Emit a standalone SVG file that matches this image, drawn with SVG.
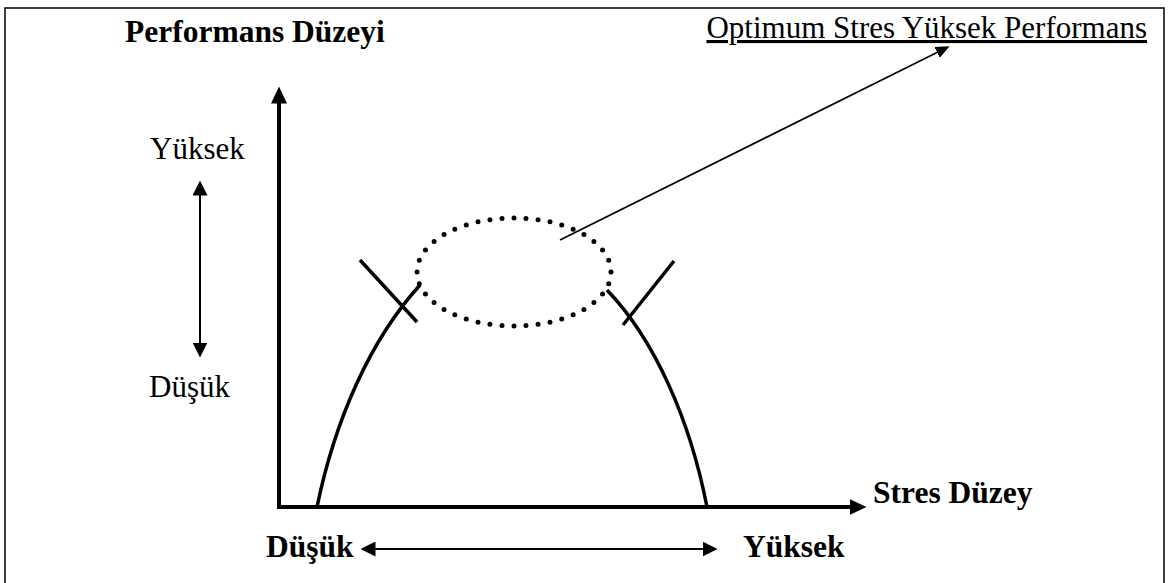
<svg xmlns="http://www.w3.org/2000/svg" width="1169" height="583" viewBox="0 0 1169 583">
  <style>
    .reg { font-family: "Liberation Serif", "Times New Roman", serif; font-size: 31px; fill: #000; }
    .bold { font-family: "Liberation Serif", "Times New Roman", serif; font-size: 31.5px; font-weight: bold; fill: #000; }
    .axis { stroke: #000; stroke-width: 4; fill: none; }
    .curve { stroke: #000; stroke-width: 3.5; fill: none; }
    .thin { stroke: #000; stroke-width: 2; fill: none; }
    .leader { stroke: #000; stroke-width: 1.6; fill: none; }
    .frame { stroke: #000; stroke-width: 1.5; fill: none; }
    .dots { stroke: #000; stroke-width: 5; fill: none; stroke-linecap: round; stroke-dasharray: 0 1; }
  </style>
  <defs>
    <marker id="axisHead" markerUnits="userSpaceOnUse" viewBox="0 -8 17 16" markerWidth="17" markerHeight="16" refX="0.5" refY="0" orient="auto">
      <path d="M0,-8 L17,0 L0,8 Z" fill="#000"/>
    </marker>
    <marker id="smallHead" markerUnits="userSpaceOnUse" viewBox="0 -7.5 15 15" markerWidth="15" markerHeight="15" refX="0.5" refY="0" orient="auto-start-reverse">
      <path d="M0,-7.5 L15,0 L0,7.5 Z" fill="#000"/>
    </marker>
    <marker id="leaderHead" markerUnits="userSpaceOnUse" viewBox="0 -6 14 12" markerWidth="14" markerHeight="12" refX="0.5" refY="0" orient="auto">
      <path d="M0,-6 L14,0 L0,6 Z" fill="#000"/>
    </marker>
  </defs>

  <rect width="1169" height="583" fill="#fff"/>
  <g id="frame">
    <polyline class="frame" points="5,590 5,8 1164,8 1164,590"/>
  </g>

  <g id="connectors">
    <line id="y-axis" class="axis" x1="279" y1="509" x2="279" y2="103" marker-end="url(#axisHead)"/>
    <line id="x-axis" class="axis" x1="277" y1="507" x2="850" y2="507" marker-end="url(#axisHead)"/>
    <line id="perf-range" class="thin" x1="200" y1="195" x2="200" y2="343" marker-start="url(#smallHead)" marker-end="url(#smallHead)"/>
    <line id="stress-range" class="thin" x1="375" y1="549" x2="703" y2="549" marker-start="url(#smallHead)" marker-end="url(#smallHead)"/>
    <line id="optimum-leader" class="leader" x1="560" y1="240" x2="937.5" y2="52.2" marker-end="url(#leaderHead)"/>
  </g>

  <g id="curve">
    <path class="curve" d="M317,507 C335,420 370,340 420,285"/>
    <path class="curve" d="M607,290 C655,340 690,420 707,507"/>
    <line class="curve" x1="360" y1="260" x2="417" y2="322"/>
    <line class="curve" x1="674" y1="261" x2="623" y2="325"/>
  </g>

  <g id="optimum-zone">
    <ellipse class="dots" cx="514" cy="272" rx="97" ry="54" pathLength="40"/>
  </g>

  <g id="label-performance">
    <text class="bold" x="125" y="42">Performans Düzeyi</text>
  </g>
  <g id="label-optimum">
    <text class="reg" x="1147" y="38" text-anchor="end" text-decoration="underline">Optimum Stres Yüksek Performans</text>
  </g>
  <g id="label-perf-high">
    <text class="reg" x="150" y="159">Yüksek</text>
  </g>
  <g id="label-perf-low">
    <text class="reg" x="149" y="397">Düşük</text>
  </g>
  <g id="label-stress">
    <text class="bold" x="873" y="503">Stres Düzey</text>
  </g>
  <g id="label-stress-low">
    <text class="bold" x="266" y="557">Düşük</text>
  </g>
  <g id="label-stress-high">
    <text class="bold" x="743" y="557">Yüksek</text>
  </g>
</svg>
